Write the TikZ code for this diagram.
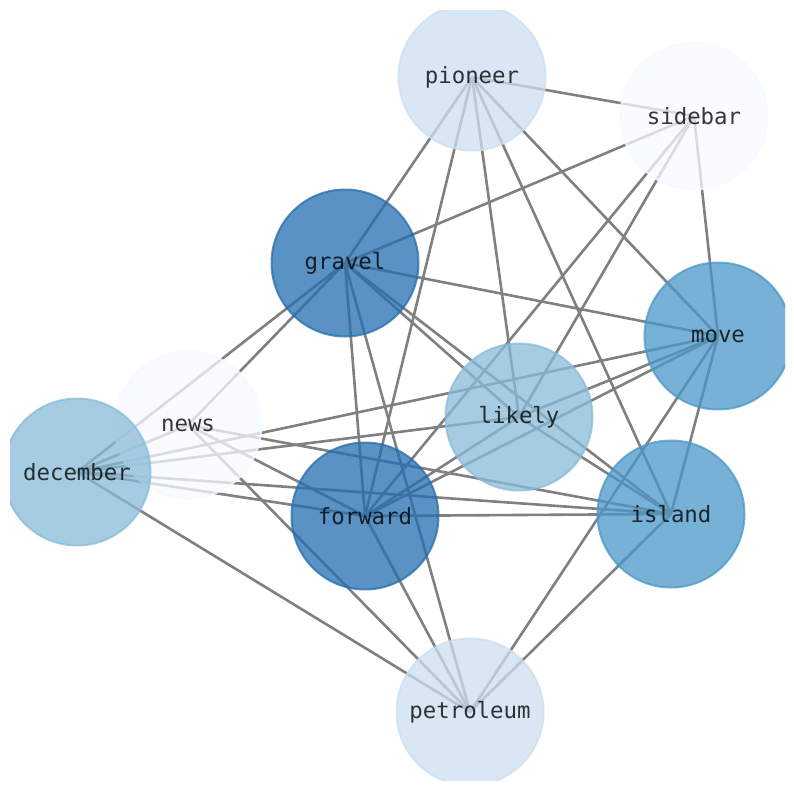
\documentclass[tikz,border=0pt]{standalone}
\usepackage{fontspec}
\newfontfamily\wordfont{DejaVu Sans Mono}
\pgfdeclarelayer{back}
\pgfdeclarelayer{edges}
\pgfsetlayers{back,edges,main}
% colours by degree
\definecolor{deg5}{RGB}{246,250,255}
\definecolor{deg6}{RGB}{204,223,240}
\definecolor{deg7}{RGB}{136,188,217}
\definecolor{deg8}{RGB}{74,152,201}
\definecolor{deg9}{RGB}{36,110,176}
\tikzset{
  word/.style={circle, minimum size=147pt, inner sep=0pt, line width=2pt,
    fill=#1, draw=#1, fill opacity=0.75, draw opacity=0.75,
    text=black, text opacity=0.78, font=\wordfont\fontsize{22.4}{26}\selectfont},
  link/.style={draw=gray, line width=2.6pt}
}
\begin{document}
\begin{tikzpicture}[x=1pt,y=-1pt]
\useasboundingbox (0,0) rectangle (794,790);
\begin{pgfonlayer}{back}
\fill[white] (0,0) rectangle (794,790);
\end{pgfonlayer}
\begin{scope}
\clip (10,10) rectangle (785,780);
\node[word=deg6] (pioneer) at (472,77) {pioneer};
\node[word=deg5] (sidebar) at (694,116) {sidebar};
\node[word=deg9] (gravel) at (345,263) {gravel};
\node[word=deg8] (move) at (718,336) {move};
\node[word=deg7] (likely) at (519,417) {likely};
\node[word=deg5] (news) at (188,425) {news};
\node[word=deg7] (december) at (77,472) {december};
\node[word=deg9] (forward) at (365,516) {forward};
\node[word=deg8] (island) at (671,514) {island};
\node[word=deg6] (petroleum) at (470,712) {petroleum};
\end{scope}
\begin{pgfonlayer}{edges}
\foreach \a/\b in {pioneer/sidebar, pioneer/gravel, pioneer/forward, pioneer/likely,
    pioneer/island, pioneer/move, sidebar/gravel, sidebar/forward, sidebar/likely,
    sidebar/move, gravel/move, gravel/news, gravel/december, gravel/forward,
    gravel/petroleum, gravel/likely, gravel/island, move/december, move/forward,
    move/likely, move/island, move/petroleum, likely/december, likely/forward,
    likely/island, news/december, news/island, news/forward, news/petroleum,
    december/forward, december/island, december/petroleum, forward/island,
    forward/petroleum, island/petroleum}
  \draw[link] (\a.center) -- (\b.center);
\end{pgfonlayer}
\end{tikzpicture}
\end{document}
